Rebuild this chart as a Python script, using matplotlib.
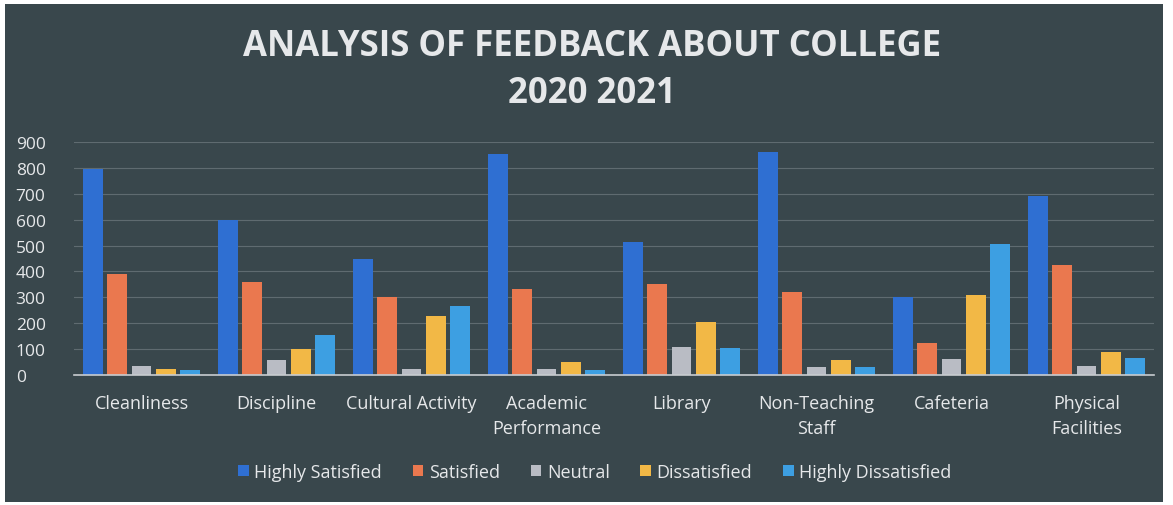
import numpy as np
import matplotlib
matplotlib.use("Agg")
import matplotlib.pyplot as plt
from matplotlib.patches import Rectangle

# Data
categories = ["Cleanliness", "Discipline", "Cultural Activity", "Academic\nPerformance",
              "Library", "Non-Teaching\nStaff", "Cafeteria", "Physical\nFacilities"]
series_names = ["Highly Satisfied", "Satisfied", "Neutral", "Dissatisfied", "Highly Dissatisfied"]
highly_satisfied = [797, 600, 448, 852, 515, 862, 302, 693]
satisfied = [390, 358, 302, 332, 351, 321, 125, 425]
neutral = [34, 58, 25, 22, 108, 29, 61, 35]
dissatisfied = [22, 100, 228, 52, 205, 57, 309, 89]
highly_dissatisfied = [19, 154, 267, 20, 103, 30, 506, 67]
y_ticks = [0, 100, 200, 300, 400, 500, 600, 700, 800, 900]

colors = ["#2f6fd2", "#ea784f", "#b9bcc4", "#f2b846", "#3d9fe2"]
bg = "#39474c"
text_col = "#e6e8ea"

plt.rcParams['font.family'] = ['Open Sans', 'DejaVu Sans']

fig = plt.figure(figsize=(11.73, 5.06), dpi=100)
fig.patch.set_facecolor("white")
# dark chart panel inside a thin white margin
panel = Rectangle((5/1173, 3/506), 1158/1173, 498/506, transform=fig.transFigure,
                  facecolor=bg, edgecolor="none", zorder=-5)
fig.add_artist(panel)

ax = fig.add_axes([74/1173, 130/506, 1080/1173, 233/506])
ax.set_facecolor("none")

all_series = [highly_satisfied, satisfied, neutral, dissatisfied, highly_dissatisfied]
x = np.arange(len(categories))
step = 0.178
width = 0.148
for i, (vals, name) in enumerate(zip(all_series, series_names)):
    ax.bar(x + (i - 2) * step, vals, width=width, color=colors[i], label=name, zorder=3)

ax.set_xlim(-0.5, len(categories) - 0.5)
ax.set_ylim(0, 900)
ax.set_yticks(y_ticks)
ax.set_xticks(x)
ax.set_xticklabels(categories, fontsize=13, color=text_col, linespacing=1.5, va="top")
ax.tick_params(axis="y", labelsize=12.5, colors=text_col, length=0, pad=42)
ax.tick_params(axis="x", length=0, pad=14)
for lbl in ax.get_yticklabels():
    lbl.set_horizontalalignment("left")

ax.yaxis.grid(True, color="#7f898e", linewidth=0.8, alpha=0.55, zorder=0)
for s in ["top", "right", "left"]:
    ax.spines[s].set_visible(False)
ax.spines["bottom"].set_color("#c8ccd0")
ax.spines["bottom"].set_linewidth(1.2)
ax.spines["bottom"].set_zorder(4)

fig.text(0.505, 0.907, "ANALYSIS OF FEEDBACK ABOUT COLLEGE", ha="center", va="center",
         fontsize=25, fontweight="bold", color=text_col)
fig.text(0.505, 0.815, "2020 2021", ha="center", va="center",
         fontsize=25, fontweight="bold", color=text_col)

leg = fig.legend(loc="center", bbox_to_anchor=(0.507, 0.065), ncol=5, frameon=False,
                 fontsize=13, handlelength=0.6, handleheight=0.6, handletextpad=0.3,
                 columnspacing=1.7)
for t in leg.get_texts():
    t.set_color(text_col)

fig.savefig("out.png", dpi=100, facecolor=fig.get_facecolor())
